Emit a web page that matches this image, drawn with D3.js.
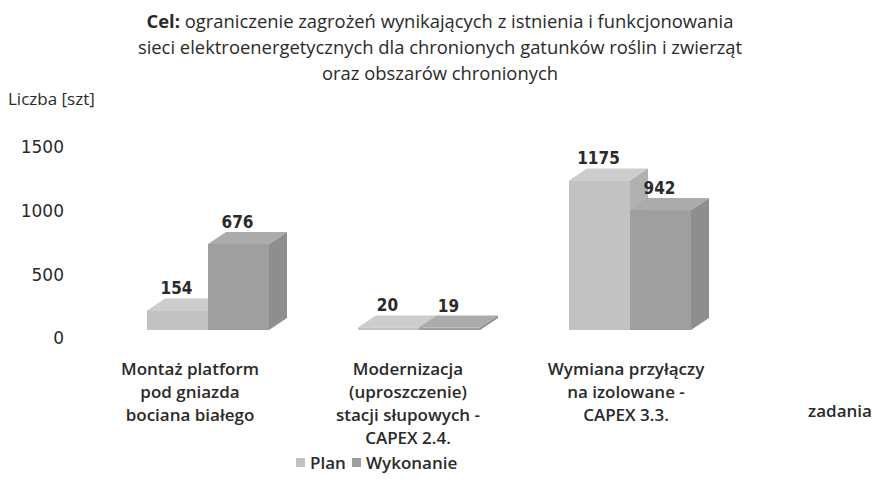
<!DOCTYPE html>
<html>
<head>
<meta charset="utf-8">
<script src="https://cdn.jsdelivr.net/npm/d3@7"></script>
<style>
	body { margin: 0; background: #fff; }
	svg { display: block; }
	.narrow { font-family: "Open Sans", sans-serif; fill: #2a2a2a; }
	.wide { font-family: "DejaVu Sans", Verdana, sans-serif; fill: #2a2a2a; }
	.cond { font-family: "DejaVu Sans Condensed", "DejaVu Sans", sans-serif; fill: #2a2a2a; }
</style>
</head>
<body>
<svg id="chart" width="879" height="484"></svg>
<script>
// chart data
const categories = [
	["Montaż platform", "pod gniazda", "bociana białego"],
	["Modernizacja", "(uproszczenie)", "stacji słupowych -", "CAPEX 2.4."],
	["Wymiana przyłączy", "na izolowane -", "CAPEX 3.3."]
];
const seriesNames = ["Plan", "Wykonanie"];
const planValues = [154, 20, 1175];
const wykonanieValues = [676, 19, 942];
const yTicks = [0, 500, 1000, 1500];
const titleLines = [
	["Cel:", " ograniczenie zagrożeń wynikających z istnienia i funkcjonowania"],
	["", "sieci elektroenergetycznych dla chronionych gatunków roślin i zwierząt"],
	["", "oraz obszarów chronionych"]
];

const colors = {
	Plan: { front: "#c2c2c2", top: "#cdcdcd", side: "#b0b0b0" },
	Wykonanie: { front: "#9f9f9f", top: "#ababab", side: "#8e8e8e" }
};

const svg = d3.select("#chart");
const keys = categories.map((c, i) => "c" + i);
const depth = { dx: 18, dy: -12 };

// scales
const xGroup = d3.scaleBand().domain(keys).range([102.5, 735.5]);
const xSeries = d3.scaleBand().domain(seriesNames).range([0, 122]);
// floor front edge is wider in the 3d view, labels sit on it
const xLabel = d3.scaleBand().domain(keys).range([81, 735]);
const y = d3.scaleLinear().domain([0, 1500]).range([330, 139]);
const yAxisScale = d3.scaleLinear().domain([0, 1500]).range([338, 147]);

// title
const title = svg.append("text")
	.attr("class", "narrow")
	.attr("text-anchor", "middle")
	.style("font-size", "18.4px");
titleLines.forEach((line, i) => {
	const t = title.append("tspan").attr("x", 440).attr("y", 28 + i * 26);
	if (line[0]) t.append("tspan").style("font-weight", "bold").text(line[0]);
	t.append("tspan").text(line[1]);
});

svg.append("text")
	.attr("class", "narrow")
	.attr("x", 8).attr("y", 105)
	.style("font-size", "17px")
	.text("Liczba [szt]");

// y axis labels (no line)
const yAxis = d3.axisLeft(yAxisScale).tickValues(yTicks).tickFormat(d3.format("d")).tickSize(0).tickPadding(0);
const ax = svg.append("g").attr("transform", "translate(64,0)").call(yAxis);
ax.select(".domain").remove();
ax.selectAll("text")
	.attr("class", "wide")
	.attr("dy", "0.35em")
	.style("font-size", "17px");

// 3D bars
const bars = [];
keys.forEach((k, i) => {
	seriesNames.forEach((s, j) => {
		const v = j === 0 ? planValues[i] : wykonanieValues[i];
		bars.push({ key: k, series: s, value: v });
	});
});

const barX = d => xGroup(d.key) + xGroup.bandwidth() / 2 - 61 + xSeries(d.series);

const g = svg.append("g");
bars.forEach(d => {
	const x0 = barX(d);
	const x1 = x0 + xSeries.bandwidth();
	const yt = y(d.value), yb = y(0);
	const c = colors[d.series];
	const bar = g.append("g");
	bar.append("path")
		.attr("d", `M${x1},${yb}L${x1 + depth.dx},${yb + depth.dy}L${x1 + depth.dx},${yt + depth.dy}L${x1},${yt}Z`)
		.attr("fill", c.side);
	bar.append("path")
		.attr("d", `M${x0},${yt}L${x0 + depth.dx},${yt + depth.dy}L${x1 + depth.dx},${yt + depth.dy}L${x1},${yt}Z`)
		.attr("fill", c.top);
	bar.append("rect")
		.attr("x", x0).attr("y", yt)
		.attr("width", x1 - x0).attr("height", yb - yt)
		.attr("fill", c.front);
});

// value labels
bars.forEach(d => {
	svg.append("text")
		.attr("class", "cond")
		.attr("x", barX(d) + xSeries.bandwidth() / 2 - 1)
		.attr("y", y(d.value) + depth.dy - 4)
		.attr("text-anchor", "middle")
		.style("font-size", "17px")
		.style("font-weight", "bold")
		.text(d.value);
});

// category labels
categories.forEach((lines, i) => {
	const t = svg.append("text")
		.attr("class", "narrow")
		.attr("text-anchor", "middle")
		.style("font-size", "17px")
		.style("font-weight", "600");
	lines.forEach((l, j) => {
		t.append("tspan")
			.attr("x", xLabel(keys[i]) + xLabel.bandwidth() / 2)
			.attr("y", 375 + j * 23)
			.text(l);
	});
});

svg.append("text")
	.attr("class", "narrow")
	.attr("x", 840).attr("y", 417)
	.attr("text-anchor", "middle")
	.style("font-size", "17px")
	.style("font-weight", "600")
	.text("zadania");

// legend
const legend = svg.append("g").attr("transform", "translate(296,463)");
const legendX = [0, 56];
seriesNames.forEach((s, i) => {
	const item = legend.append("g").attr("transform", `translate(${legendX[i]},0)`);
	item.append("rect")
		.attr("x", 0).attr("y", -5)
		.attr("width", 9).attr("height", 9)
		.attr("fill", colors[s].front);
	item.append("text")
		.attr("class", "narrow")
		.attr("x", 14).attr("y", 0)
		.attr("dy", "0.35em")
		.style("font-size", "17px")
		.style("font-weight", "600")
		.text(s);
});
</script>
</body>
</html>
